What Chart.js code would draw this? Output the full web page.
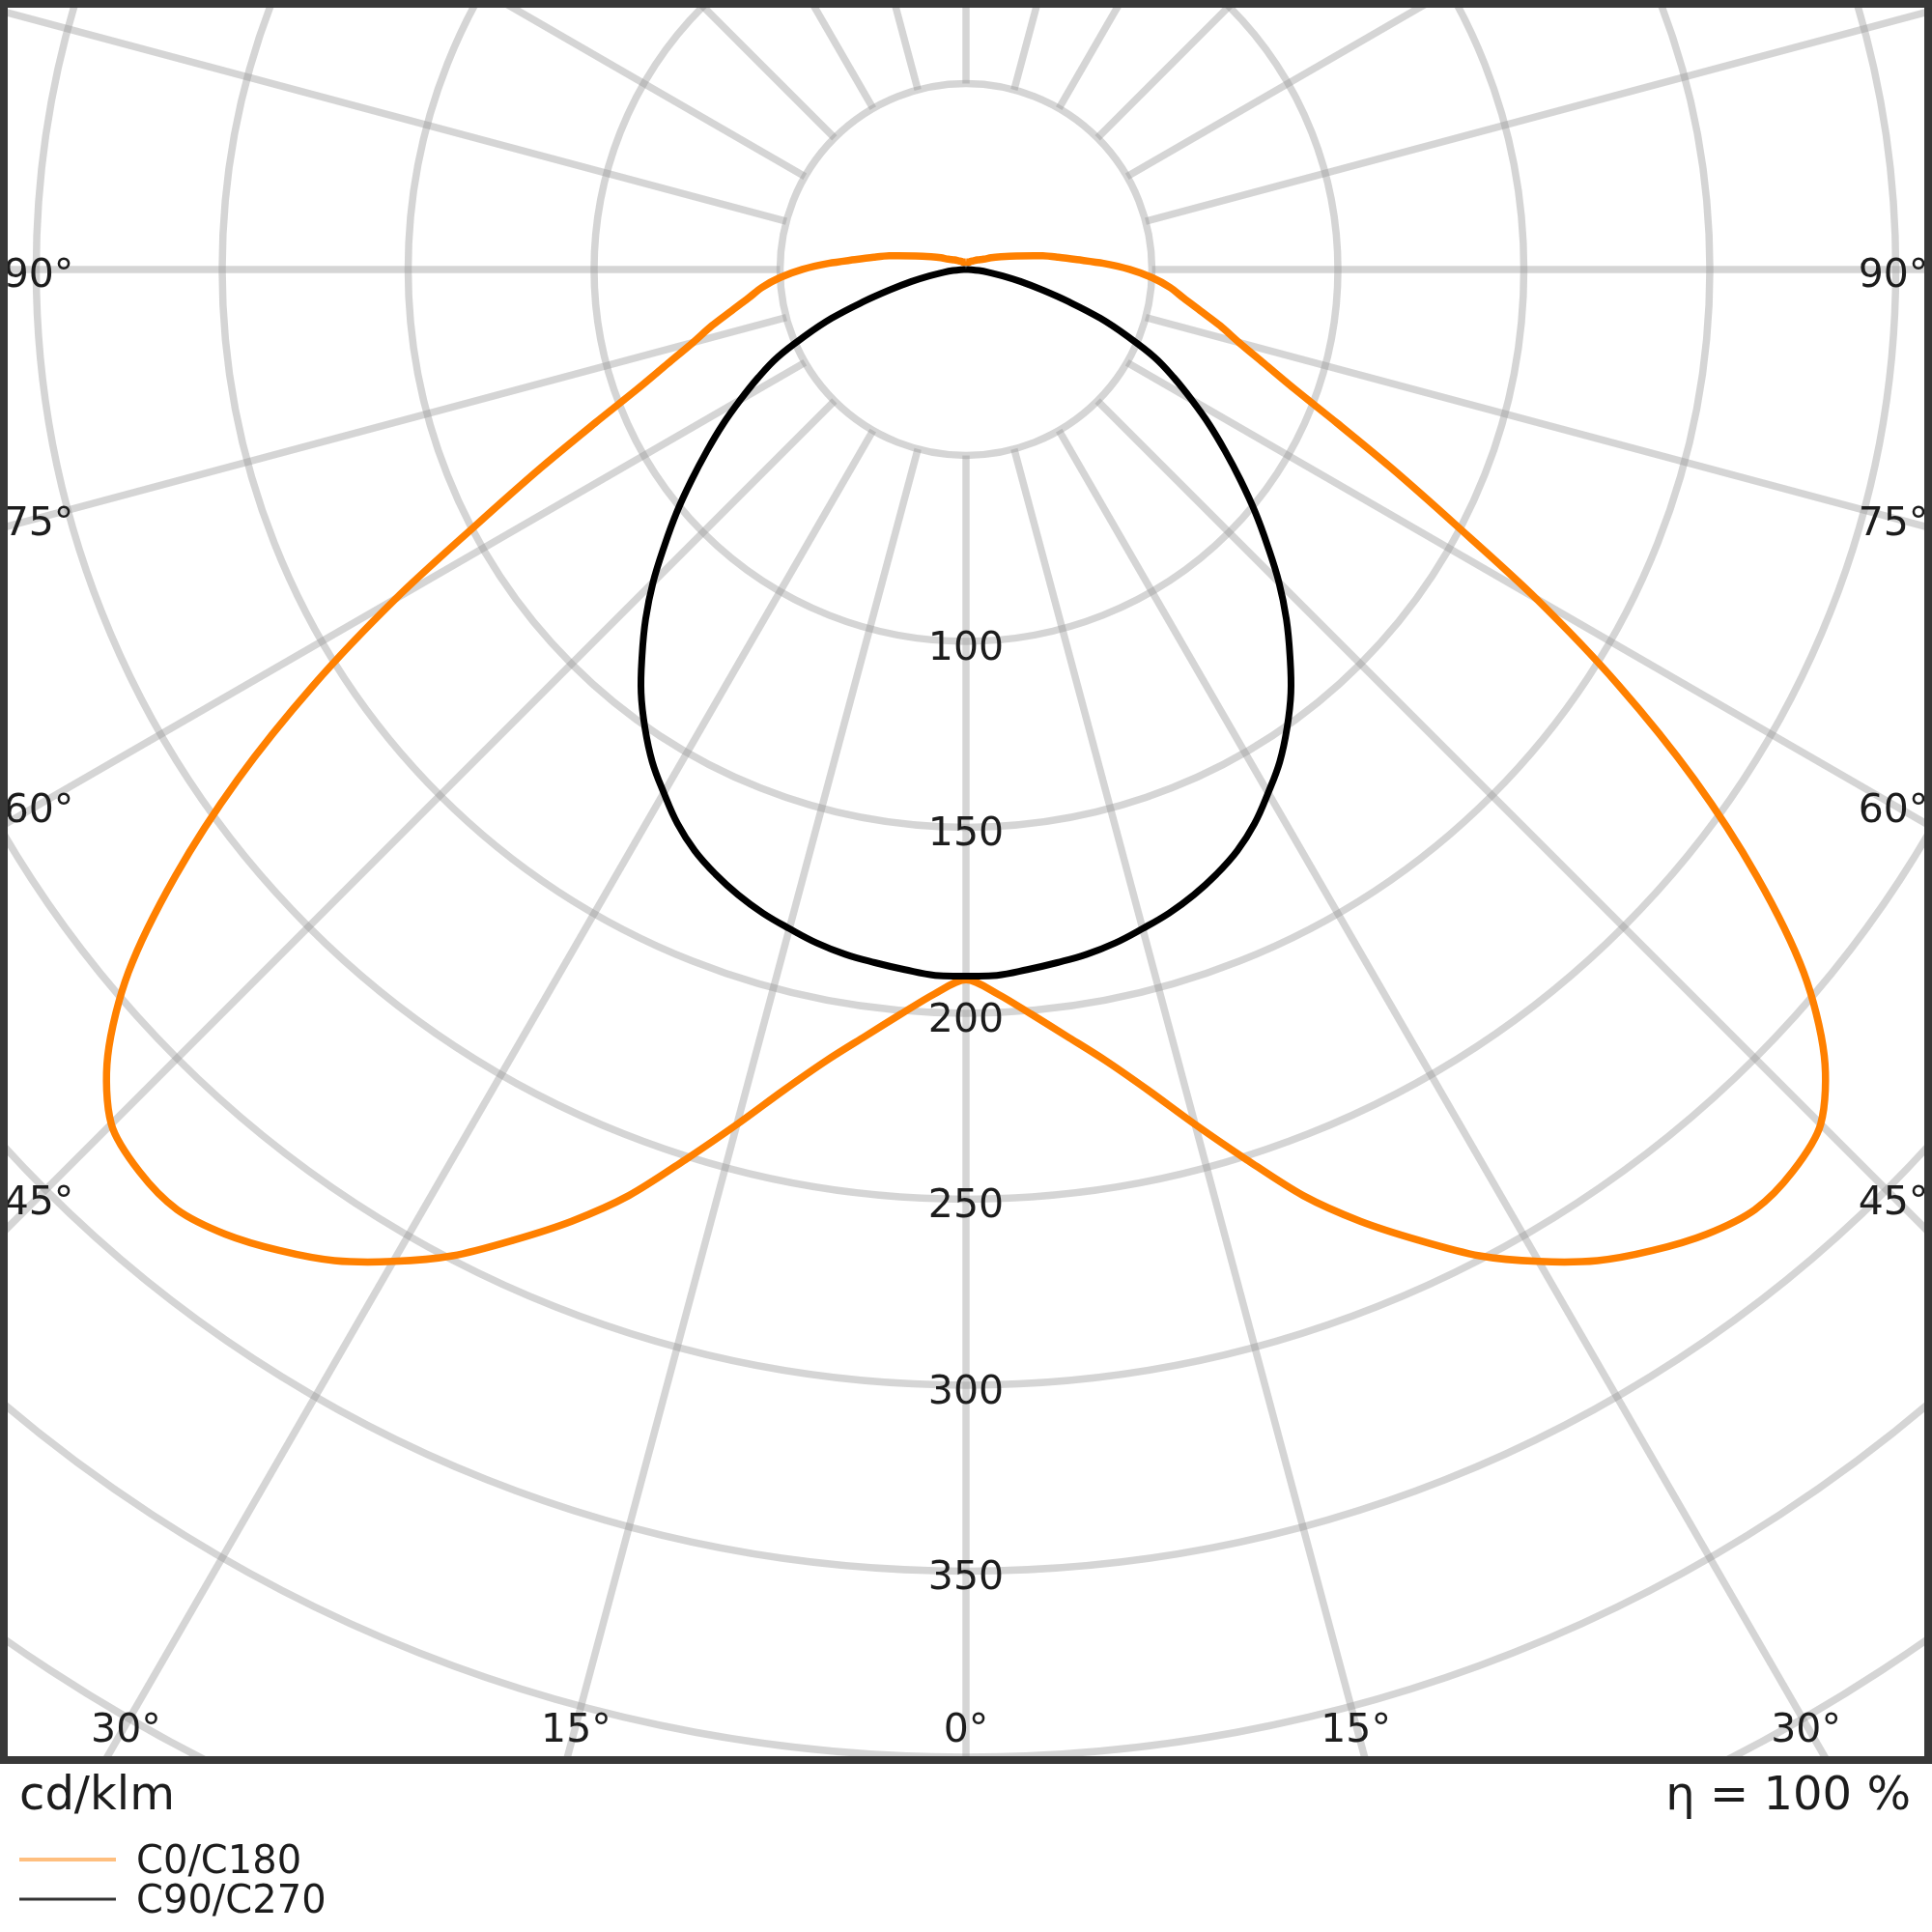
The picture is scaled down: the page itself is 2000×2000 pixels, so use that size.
<!DOCTYPE html>
<html>
<head>
<meta charset="utf-8">
<script src="https://cdn.jsdelivr.net/npm/chart.js@4.4.1/dist/chart.umd.min.js"></script>
<style>
	html, body { margin: 0; padding: 0; background: #fff; }
</style>
</head>
<body>
<canvas id="ldc" width="2000" height="2000"></canvas>
<script>
// Gamma angles (deg, 0 = nadir) and intensities in cd/klm.
const gamma = [
	0, 2.5, 5, 7.5, 10, 12.5, 15, 17.5, 20, 22.5,
	25, 27.5, 30, 32.5, 35, 37.5, 40, 42.5, 45, 47.5,
	50, 52.5, 55, 57.5, 60, 62.5, 65, 67.5, 70, 72.5,
	75, 77.5, 80, 82.5, 85, 87.5, 90, 92.5, 95, 97.5,
	100, 105, 110, 115, 120, 130, 140, 150, 160, 170, 180
];
const c0c180 = [
	191, 195, 201, 208, 216, 226, 238, 251, 265, 277,
	288, 299, 308, 316, 322, 327, 330, 329, 325, 313,
	294, 268, 239, 208, 177, 148, 126, 108, 94, 84,
	76, 70, 64, 59, 55, 50, 44, 37, 30, 25,
	21, 14, 10, 7.5, 5.5, 4, 3, 2.5, 2, 2, 2
];
const c90c270 = [
	190, 190, 189, 188, 187, 185.5, 183.5, 181.5, 179, 176,
	172.5, 168, 162.5, 157, 150.5, 143.5, 135.5, 127.5, 119, 110,
	101.5, 93, 85, 77.5, 70, 63, 56, 47, 38.5, 29,
	21, 15, 10, 6, 3.5, 1.5, 0, 0, 0, 0,
	0, 0, 0, 0, 0, 0, 0, 0, 0, 0, 0
];

const ringGrid = [ 50, 100, 150, 200, 250, 300, 350, 400, 450, 500, 550 ];
const ringLabels = [ '100', '150', '200', '250', '300', '350' ];
const angleTicks = [ 90, 75, 60, 45, 30, 15, 0 ];
const seriesNames = [ 'C0/C180', 'C90/C270' ];
const unitText = 'cd/klm';
const effText = 'η = 100 %';

const FONT = '"DejaVu Sans", "Liberation Sans", sans-serif';

// Mirror one plane pair around nadir: left half then right half.
function planePoints( vals ) {
	const pts = [];
	let last = vals.length - 1;
	// drop the trailing run of zeros so the curve ends at the centre once
	while ( last > 0 && vals[ last ] === 0 && vals[ last - 1 ] === 0 ) {
		last--;
	}
	for ( let i = last; i >= 0; i-- ) {
		const t = gamma[ i ] * Math.PI / 180;
		pts.push( { x: -vals[ i ] * Math.sin( t ), y: -vals[ i ] * Math.cos( t ) } );
	}
	for ( let i = 1; i <= last; i++ ) {
		const t = gamma[ i ] * Math.PI / 180;
		pts.push( { x: vals[ i ] * Math.sin( t ), y: -vals[ i ] * Math.cos( t ) } );
	}
	return pts;
}

const polarGrid = {
	id: 'polarGrid',
	beforeDatasetsDraw( chart ) {
		const { ctx, chartArea: a } = chart;
		const xs = chart.scales.x;
		const ys = chart.scales.y;
		const cx = xs.getPixelForValue( 0 );
		const cy = ys.getPixelForValue( 0 );
		const unit = xs.getPixelForValue( 1 ) - cx;
		ctx.save();
		ctx.beginPath();
		ctx.rect( a.left, a.top, a.right - a.left, a.bottom - a.top );
		ctx.clip();
		ctx.strokeStyle = 'rgba(150,150,150,0.4)';
		ctx.lineWidth = 7.5;
		ringGrid.forEach( ( r ) => {
			ctx.beginPath();
			ctx.arc( cx, cy, r * unit, 0, Math.PI * 2 );
			ctx.stroke();
		} );
		for ( let deg = 0; deg < 360; deg += 15 ) {
			const t = deg * Math.PI / 180;
			const r0 = ringGrid[ 0 ];
			const r1 = 700;
			ctx.beginPath();
			ctx.moveTo( xs.getPixelForValue( r0 * Math.sin( t ) ), ys.getPixelForValue( -r0 * Math.cos( t ) ) );
			ctx.lineTo( xs.getPixelForValue( r1 * Math.sin( t ) ), ys.getPixelForValue( -r1 * Math.cos( t ) ) );
			ctx.stroke();
		}
		ctx.restore();
	},
	afterDraw( chart ) {
		const { ctx, chartArea: a } = chart;
		const xs = chart.scales.x;
		const ys = chart.scales.y;
		const cx = xs.getPixelForValue( 0 );
		const cy = ys.getPixelForValue( 0 );
		ctx.save();

		// value labels on the nadir axis
		ctx.fillStyle = '#1c1c1c';
		ctx.font = '41px ' + FONT;
		ctx.textAlign = 'center';
		ctx.textBaseline = 'middle';
		ringLabels.forEach( ( s ) => {
			ctx.fillText( s, cx, ys.getPixelForValue( -Number( s ) ) + 8 );
		} );

		// angle labels where the spokes meet an inset of the frame
		const inL = a.left + 36;
		const inR = a.right - 36;
		const inB = a.bottom - 37;
		angleTicks.forEach( ( deg ) => {
			const t = deg * Math.PI / 180;
			[ -1, 1 ].forEach( ( side ) => {
				if ( deg === 0 && side === 1 ) {
					return;
				}
				const dx = side * Math.sin( t );
				const dy = Math.cos( t );
				let k = Infinity;
				if ( Math.abs( dx ) > 1e-9 ) {
					k = Math.min( k, ( side < 0 ? cx - inL : inR - cx ) / Math.abs( dx ) );
				}
				if ( dy > 1e-9 ) {
					k = Math.min( k, ( inB - cy ) / dy );
				}
				ctx.fillText( deg + '°', cx + k * dx, cy + k * dy + 7 );
			} );
		} );

		// frame
		ctx.strokeStyle = '#383838';
		ctx.lineWidth = 8;
		ctx.strokeRect( a.left, a.top, a.right - a.left, a.bottom - a.top );

		// unit and efficiency
		ctx.textBaseline = 'alphabetic';
		ctx.font = '48px ' + FONT;
		ctx.textAlign = 'left';
		ctx.fillText( unitText, 20, 1873 );
		ctx.textAlign = 'right';
		ctx.fillText( effText, 1978, 1873 );

		// legend
		const legendColors = [ 'rgba(255,128,0,0.5)', 'rgba(0,0,0,0.8)' ];
		ctx.font = '40px ' + FONT;
		ctx.textAlign = 'left';
		ctx.textBaseline = 'middle';
		seriesNames.forEach( ( name, i ) => {
			const y = 1925 + i * 41;
			ctx.strokeStyle = legendColors[ i ];
			ctx.lineWidth = i === 0 ? 4 : 3;
			ctx.beginPath();
			ctx.moveTo( 20, y );
			ctx.lineTo( 120, y );
			ctx.stroke();
			ctx.fillText( name, 141, y + 4 );
		} );
		ctx.restore();
	},
};

new Chart( document.getElementById( 'ldc' ), {
	type: 'scatter',
	data: {
		datasets: [
			{
				label: seriesNames[ 0 ],
				data: planePoints( c0c180 ),
				showLine: true,
				borderColor: '#ff8000',
				borderWidth: 7.5,
				pointRadius: 0,
				tension: 0.3,
				order: 2,
			},
			{
				label: seriesNames[ 1 ],
				data: planePoints( c90c270 ),
				showLine: true,
				borderColor: '#000000',
				borderWidth: 7,
				pointRadius: 0,
				tension: 0.4,
				order: 1,
			},
		],
	},
	options: {
		responsive: false,
		animation: false,
		devicePixelRatio: 1,
		layout: { padding: { left: 4, right: 4, top: 4, bottom: 178 } },
		scales: {
			x: { type: 'linear', min: -258.7, max: 258.7, display: false },
			y: { type: 'linear', min: -400.8, max: 71.4, display: false },
		},
		plugins: {
			legend: { display: false },
			tooltip: { enabled: false },
		},
	},
	plugins: [ polarGrid ],
} );
</script>
</body>
</html>
